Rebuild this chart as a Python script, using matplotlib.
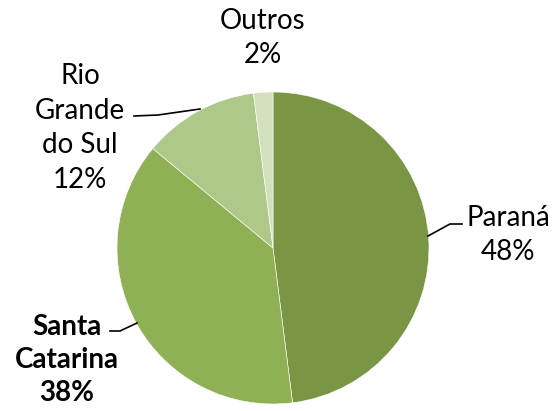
import matplotlib
matplotlib.use("Agg")
import matplotlib.pyplot as plt

categories = ["Paraná", "Santa Catarina", "Rio Grande do Sul", "Outros"]
values = [48, 38, 12, 2]
pct_labels = ["48%", "38%", "12%", "2%"]
colors = ["#7A9544", "#90B055", "#AEC88A", "#D3E0BF"]

W, H = 557, 411
fig = plt.figure(figsize=(W / 100, H / 100), dpi=100)
ax = fig.add_axes([0, 0, 1, 1])

cx, cy, r = 273, H - 248, 156
ax.pie(values, colors=colors, startangle=90, counterclock=False,
       center=(cx, cy), radius=r, frame=True,
       wedgeprops=dict(edgecolor="white", linewidth=0.4))
ax.set_xlim(0, W)
ax.set_ylim(0, H)
ax.set_aspect("equal")
ax.axis("off")

font = "Lato"
fs = 20

def Y(y):
    return H - y

# Labels
ax.text(263, Y(38), f"{categories[3]}\n{pct_labels[3]}", ha="center", va="center",
        fontsize=fs, family=font, linespacing=1.4)
ax.text(80, Y(128), "Rio\nGrande\ndo Sul\n" + pct_labels[2], ha="center", va="center",
        fontsize=fs, family=font, linespacing=1.4)
ax.text(508, Y(235), f"{categories[0]}\n{pct_labels[0]}", ha="center", va="center",
        fontsize=fs, family=font, linespacing=1.4)
ax.text(67, Y(360), "Santa\nCatarina\n" + pct_labels[1], ha="center", va="center",
        fontsize=fs, family=font, fontweight="bold", linespacing=1.35)

# Leader lines
ax.plot([134, 158, 200], [Y(116), Y(115), Y(109)], color="black", lw=1.2)
ax.plot([428, 450, 462], [Y(236), Y(224), Y(224)], color="black", lw=1.2)
ax.plot([110, 120, 137], [Y(331), Y(331), Y(323)], color="black", lw=1.2)

fig.savefig("out.png", dpi=100)
